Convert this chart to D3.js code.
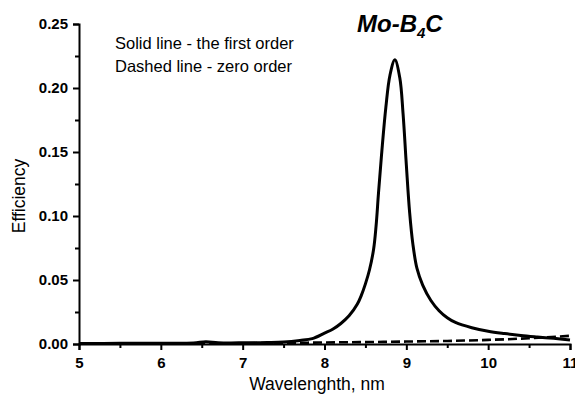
<!DOCTYPE html>
<html>
<head>
<meta charset="utf-8">
<script src="https://cdn.jsdelivr.net/npm/d3@7"></script>
<style>
  body { margin: 0; background: #fff; }
  svg { display: block; font-family: "Liberation Sans", Arial, sans-serif; }
</style>
</head>
<body>
<div id="chart"><svg id="plot"></svg></div>
<script>
// wavelength (nm) and efficiency
const solidX = [5.0, 5.5, 6.0, 6.4, 6.55, 6.7, 7.0, 7.3, 7.5, 7.7, 7.85, 8.0, 8.1, 8.2, 8.3, 8.4, 8.45, 8.5, 8.55, 8.6, 8.63, 8.66, 8.7, 8.75, 8.8, 8.86, 8.92, 8.96, 9.0, 9.04, 9.08, 9.13, 9.2, 9.3, 9.4, 9.5, 9.6, 9.8, 10.0, 10.2, 10.4, 10.6, 10.8, 11.0]
const solidY = [0.0004, 0.0005, 0.0006, 0.0008, 0.0018, 0.0010, 0.0009, 0.0012, 0.0016, 0.0028, 0.0042, 0.0085, 0.0115, 0.016, 0.022, 0.031, 0.038, 0.047, 0.058, 0.074, 0.092, 0.118, 0.150, 0.185, 0.210, 0.222, 0.208, 0.180, 0.140, 0.103, 0.078, 0.059, 0.046, 0.034, 0.026, 0.0205, 0.0168, 0.0127, 0.0100, 0.0082, 0.0067, 0.0055, 0.0044, 0.0032]

const dashX = [5.0, 6.0, 7.0, 7.5, 8.0, 8.5, 9.0, 9.5, 10.0, 10.5, 11.0]
const dashY = [0.0003, 0.0004, 0.0006, 0.0008, 0.0012, 0.0015, 0.0019, 0.0024, 0.0032, 0.0045, 0.0064]

const xTicks = [5, 6, 7, 8, 9, 10, 11]
const yTicks = [0.00, 0.05, 0.10, 0.15, 0.20, 0.25]
const xMinor = [5.5, 6.5, 7.5, 8.5, 9.5, 10.5]
const yMinor = [0.025, 0.075, 0.125, 0.175, 0.225]

const width = 575, height = 397
const margin = {top: 24, right: 5, bottom: 53, left: 79}

const svg = d3.select('#plot')
    .attr('width', width)
    .attr('height', height)

const x = d3.scaleLinear()
    .domain([5, 11])
    .range([margin.left, width - margin.right])

const y = d3.scaleLinear()
    .domain([0, 0.25])
    .range([height - margin.bottom, margin.top])

// x axis
const xAxis = svg.append('g')
    .attr('transform', 'translate(0,' + y(0) + ')')
    .call(d3.axisBottom(x).tickValues(xTicks).tickFormat(d3.format('d')).tickSize(6).tickPadding(7))
xAxis.append('g')
    .call(d3.axisBottom(x).tickValues(xMinor).tickFormat('').tickSize(4))
    .select('.domain').remove()

// y axis
const yAxis = svg.append('g')
    .attr('transform', 'translate(' + x(5) + ',0)')
    .call(d3.axisLeft(y).tickValues(yTicks).tickFormat(d3.format('.2f')).tickSize(6).tickPadding(5))
yAxis.append('g')
    .call(d3.axisLeft(y).tickValues(yMinor).tickFormat('').tickSize(4))
    .select('.domain').remove()

svg.selectAll('.domain').attr('stroke', '#000').attr('stroke-width', 2)
svg.selectAll('.tick line').attr('stroke', '#000').attr('stroke-width', 2)
svg.selectAll('.tick text')
    .attr('fill', '#000')
    .style('font-size', '15px')
    .style('font-weight', 'bold')

// curves
const line = d3.line()
    .x(d => x(d[0]))
    .y(d => y(d[1]))
    .curve(d3.curveCatmullRom.alpha(0.5))

svg.append('path')
    .datum(dashX.map((v, i) => [v, dashY[i]]))
    .attr('fill', 'none')
    .attr('stroke', '#000')
    .attr('stroke-width', 2.6)
    .attr('stroke-dasharray', '9,4')
    .attr('d', line)

svg.append('path')
    .datum(solidX.map((v, i) => [v, solidY[i]]))
    .attr('fill', 'none')
    .attr('stroke', '#000')
    .attr('stroke-width', 3)
    .attr('d', line)

// labels
svg.append('text')
    .attr('x', 317)
    .attr('y', 390)
    .attr('text-anchor', 'middle')
    .style('font-size', '17.5px')
    .text('Wavelenghth, nm')

svg.append('text')
    .attr('transform', 'translate(25,196) rotate(-90)')
    .attr('text-anchor', 'middle')
    .style('font-size', '17.5px')
    .text('Efficiency')

const legend = svg.append('g')
    .style('font-size', '16.5px')
legend.append('text').attr('x', 115).attr('y', 49).text('Solid line - the first order')
legend.append('text').attr('x', 115).attr('y', 72).text('Dashed line - zero order')

const title = svg.append('text')
    .attr('x', 357)
    .attr('y', 32)
    .style('font-size', '24px')
    .style('font-weight', 'bold')
    .style('font-style', 'italic')
title.append('tspan').text('Mo-B')
title.append('tspan').attr('dy', 6).style('font-size', '15px').text('4')
title.append('tspan').attr('dy', -6).text('C')
</script>
</body>
</html>
